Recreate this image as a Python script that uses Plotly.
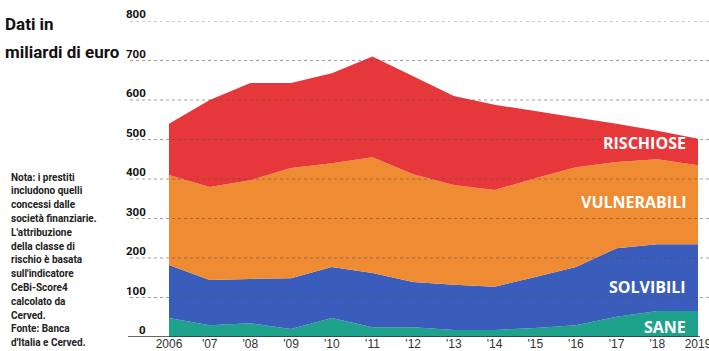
import plotly.graph_objects as go

years = [2006, 2007, 2008, 2009, 2010, 2011, 2012, 2013, 2014, 2015, 2016, 2017, 2018, 2019]
year_labels = ["2006", "'07", "'08", "'09", "'10", "'11", "'12", "'13", "'14", "'15", "'16", "'17", "'18", "2019"]

sane = [48, 30, 35, 20, 48, 25, 25, 18, 18, 23, 30, 51, 66, 66]
solvibili = [134, 114, 112, 129, 129, 137, 114, 114, 109, 129, 147, 174, 169, 169]
vulnerabili = [228, 236, 250, 279, 263, 293, 273, 253, 245, 250, 253, 218, 215, 200]
rischiose = [130, 220, 246, 215, 228, 255, 248, 225, 216, 170, 126, 97, 72, 67]

y_ticks = [0, 100, 200, 300, 400, 500, 600, 700, 800]

series = [
    ("SANE", sane, "#1fa28b"),
    ("SOLVIBILI", solvibili, "#3a5cbb"),
    ("VULNERABILI", vulnerabili, "#ee8b33"),
    ("RISCHIOSE", rischiose, "#e6383b"),
]
label_y = {"SANE": 25, "SOLVIBILI": 127, "VULNERABILI": 342, "RISCHIOSE": 491}

note_lines = [
    "Nota: i prestiti",
    "includono quelli",
    "concessi dalle",
    "società finanziarie.",
    "L'attribuzione",
    "della classe di",
    "rischio è basata",
    "sull'indicatore",
    "CeBi-Score4",
    "calcolato da",
    "Cerved.",
    "Fonte: Banca",
    "d'Italia e Cerved.",
]

COND = "Roboto, Liberation Sans, Arial, sans-serif"
SANS = "Liberation Sans, Arial, Helvetica, sans-serif"
OPEN = "Open Sans, Lato, sans-serif"

fig = go.Figure()
for name, vals, col in series:
    fig.add_trace(go.Scatter(
        x=years, y=vals, name=name, stackgroup="one", mode="none",
        fillcolor=col, line=dict(width=0), hoverinfo="skip",
    ))

W, H = 709, 351
L, R, T, B = 169, 11, 21, 14
pw, ph = W - L - R, H - T - B

def px_x(px):
    return (px - L) / pw

def px_y(py):
    return (H - B - py) / ph

shapes = []
for v in y_ticks:
    if v == 0:
        shapes.append(dict(type="line", xref="paper", yref="y", x0=px_x(128), x1=px_x(700),
                           y0=v, y1=v, line=dict(color="#333333", width=1.5), layer="above"))
    else:
        shapes.append(dict(type="line", xref="paper", yref="y", x0=px_x(130), x1=px_x(709),
                           y0=v, y1=v, line=dict(color="rgba(90,80,80,0.55)", width=1, dash="dot"),
                           layer="above"))

annotations = []
for v in y_ticks:
    annotations.append(dict(
        text="<b>%d</b>" % v, xref="paper", yref="y", x=px_x(148), y=v,
        xanchor="right", yanchor="middle", yshift=7, showarrow=False,
        font=dict(family=COND, size=11.5, color="#111111", weight=900),
    ))

for name, vals, col in series:
    annotations.append(dict(
        text="<b>%s</b>" % name, xref="paper", yref="y", x=px_x(688), y=label_y[name],
        xanchor="right", yanchor="middle", showarrow=False,
        font=dict(family=OPEN, size=16, color="white"),
    ))

annotations.append(dict(text="<b>Dati in</b>", xref="paper", yref="paper", x=px_x(3), y=px_y(24),
                        xanchor="left", yanchor="middle", showarrow=False,
                        font=dict(family=COND, size=17, color="#111111", weight=900)))
annotations.append(dict(text="<b>miliardi di euro</b>", xref="paper", yref="paper", x=px_x(3), y=px_y(52),
                        xanchor="left", yanchor="middle", showarrow=False,
                        font=dict(family=COND, size=17, color="#111111", weight=900)))

for i, line in enumerate(note_lines):
    annotations.append(dict(text="<b>%s</b>" % line, xref="paper", yref="paper",
                            x=px_x(9), y=px_y(177 + i * 13.8),
                            xanchor="left", yanchor="middle", showarrow=False,
                            font=dict(family=COND, size=10, color="#222222")))

fig.update_layout(
    width=W, height=H,
    margin=dict(l=L, r=R, t=T, b=B, autoexpand=False),
    paper_bgcolor="white", plot_bgcolor="white",
    showlegend=False,
    shapes=shapes, annotations=annotations,
    xaxis=dict(range=[2006, 2019], tickvals=years, ticktext=year_labels, showgrid=False,
               zeroline=False, showline=False, ticks="", automargin=False,
               ticklabeloverflow="allow", ticklabelstandoff=-2,
               tickfont=dict(family=SANS, size=12, color="#333333")),
    yaxis=dict(range=[0, 800], showgrid=False, zeroline=False, showticklabels=False,
               showline=False, ticks="", automargin=False),
)

fig.write_html("out.html")
